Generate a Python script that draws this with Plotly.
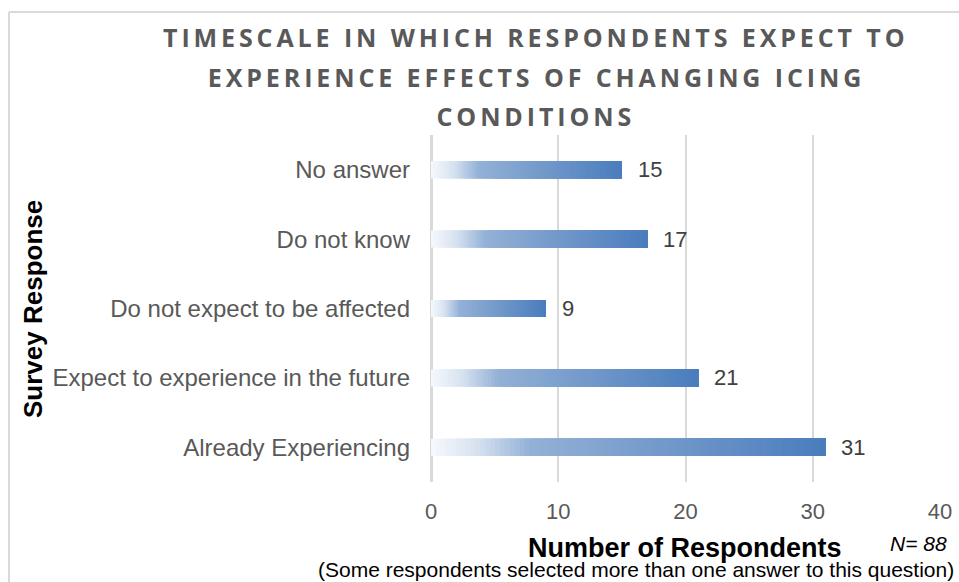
import plotly.graph_objects as go
from plotly.colors import sample_colorscale

# ---- data ----
categories = [
    "No answer",
    "Do not know",
    "Do not expect to be affected",
    "Expect to experience in the future",
    "Already Experiencing",
]
respondents = [15, 17, 9, 21, 31]
x_ticks = [0, 10, 20, 30, 40]

title_lines = [
    "TIMESCALE IN WHICH RESPONDENTS EXPECT TO",
    "EXPERIENCE EFFECTS OF CHANGING ICING",
    "CONDITIONS",
]
x_title = "Number of Respondents"
y_title = "Survey Response"
n_note = "N= 88"
footnote = "(Some respondents selected more than one answer to this question)"

# gradient along each bar (white -> blue)
gradient = [
    [0.0, "#f6f9fd"],
    [0.12, "#d6e1f0"],
    [0.25, "#93b1d7"],
    [0.5, "#7b9fcd"],
    [1.0, "#4a7dbd"],
]
N_SEG = 80

fig = go.Figure()

# overlapping segments: segment k runs from v*k/N to the bar end, later ones drawn on top
seg_colors = sample_colorscale(gradient, [(k + 0.5) / N_SEG for k in range(N_SEG)])
for k in range(N_SEG):
    fig.add_trace(go.Bar(
        y=categories,
        x=[v * (N_SEG - k) / N_SEG for v in respondents],
        base=[v * k / N_SEG for v in respondents],
        orientation="h",
        marker=dict(color=seg_colors[k], line=dict(width=0)),
        width=0.245,
        showlegend=False,
        hoverinfo="skip",
    ))

# value labels
for cat, v in zip(categories, respondents):
    fig.add_annotation(
        x=v, y=cat, xref="x", yref="y", text=str(v), showarrow=False,
        xanchor="left", yanchor="middle", xshift=14,
        font=dict(family="Liberation Sans, Arial, sans-serif", size=22, color="#404040"),
    )

L, R, T, B = 431, 19, 135, 100
W, H = 959, 582
pw, ph = W - L - R, H - T - B

def px_x(p):
    return (p - L) / pw

def px_y(p):
    return (H - B - p) / ph

# title (three centred lines)
for i, (line, ypix) in enumerate(zip(title_lines, [37, 77, 116])):
    fig.add_annotation(
        x=px_x(536), y=px_y(ypix), xref="paper", yref="paper", text=line,
        showarrow=False, xanchor="center", yanchor="middle",
        font=dict(family="Open Sans, sans-serif", size=25, color="#595959", weight="bold"),
    )

fig.add_annotation(
    x=px_x(685), y=px_y(548), xref="paper", yref="paper", text=x_title,
    showarrow=False, xanchor="center", yanchor="middle",
    font=dict(family="Liberation Sans, Arial, sans-serif", size=27, color="#000000", weight="bold"),
)
fig.add_annotation(
    x=px_x(949), y=px_y(543), xref="paper", yref="paper", text=n_note,
    showarrow=False, xanchor="right", yanchor="middle",
    font=dict(family="Liberation Sans, Arial, sans-serif", size=21, color="#000000", style="italic"),
)
fig.add_annotation(
    x=px_x(956), y=px_y(569), xref="paper", yref="paper", text=footnote,
    showarrow=False, xanchor="right", yanchor="middle",
    font=dict(family="Liberation Sans, Arial, sans-serif", size=21, color="#000000"),
)
fig.add_annotation(
    x=px_x(33), y=px_y(309), xref="paper", yref="paper", text=y_title,
    showarrow=False, xanchor="center", yanchor="middle", textangle=-90,
    font=dict(family="Liberation Sans, Arial, sans-serif", size=26, color="#000000", weight="bold"),
)

# chart-area frame (left and top edges)
fig.add_shape(type="line", xref="paper", yref="paper",
              x0=px_x(9), x1=px_x(9), y0=px_y(12), y1=px_y(582),
              line=dict(color="#d9d9d9", width=2))
fig.add_shape(type="line", xref="paper", yref="paper",
              x0=px_x(9), x1=px_x(960), y0=px_y(12), y1=px_y(12),
              line=dict(color="#d9d9d9", width=2))

fig.update_layout(
    width=W, height=H,
    margin=dict(l=L, r=R, t=T, b=B, autoexpand=False),
    paper_bgcolor="white", plot_bgcolor="white",
    barmode="overlay",
    showlegend=False,
    xaxis=dict(
        range=[0, 40], tickvals=x_ticks, ticktext=[str(t) for t in x_ticks],
        showgrid=True, gridcolor="#d9d9d9", gridwidth=2,
        zeroline=True, zerolinecolor="#d9d9d9", zerolinewidth=3,
        showline=False, ticks="", ticklabelstandoff=14,
        tickfont=dict(family="Liberation Sans, Arial, sans-serif", size=22, color="#595959"),
        fixedrange=True,
    ),
    yaxis=dict(
        type="category", categoryorder="array", categoryarray=categories,
        autorange="reversed",
        showgrid=False, zeroline=False, showline=False, ticks="",
        ticklabelstandoff=20,
        tickfont=dict(family="Liberation Sans, Arial, sans-serif", size=24, color="#595959"),
        fixedrange=True,
    ),
)

post_js = """
document.body.style.margin = '0';
document.body.style.overflow = 'hidden';
var titles = %s;
document.querySelectorAll('text.annotation-text').forEach(function(t) {
  if (titles.indexOf(t.textContent) >= 0) { t.style.letterSpacing = '3.9px'; }
});
""" % repr(title_lines).replace("'", '"')

fig.write_html("out.html", post_script=post_js, config={"displayModeBar": False})
